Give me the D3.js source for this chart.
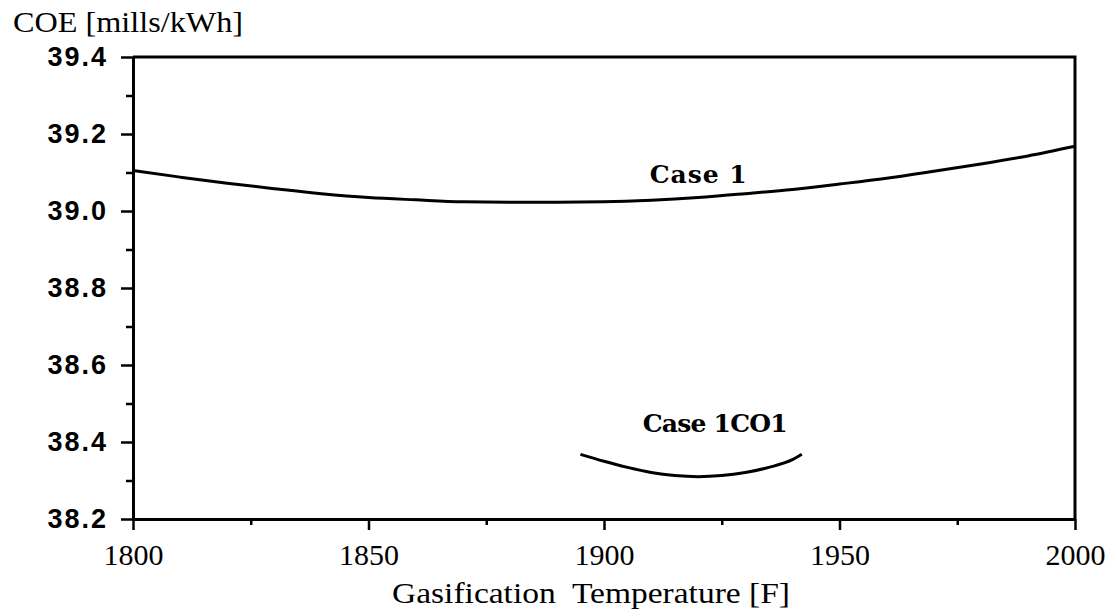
<!DOCTYPE html>
<html>
<head>
<meta charset="utf-8">
<script src="https://cdn.jsdelivr.net/npm/d3@7"></script>
<style>
  body { margin: 0; background: #fff; }
  svg { display: block; }
</style>
</head>
<body>
<div id="chart"></div>
<script>
// temperatures [F] and COE [mills/kWh]
var case1Temp = [1800, 1810, 1820, 1830, 1840, 1850, 1860, 1870, 1880, 1890, 1900,
                 1910, 1920, 1930, 1940, 1950, 1960, 1970, 1980, 1990, 2000];
var case1Coe  = [39.105, 39.088, 39.072, 39.058, 39.045, 39.035, 39.029, 39.024, 39.023, 39.023, 39.024,
                 39.028, 39.035, 39.045, 39.056, 39.070, 39.085, 39.103, 39.122, 39.143, 39.168];
var co1Temp = [1895, 1900, 1905, 1910, 1915, 1920, 1925, 1930, 1935, 1940, 1942];
var co1Coe  = [38.368, 38.350, 38.334, 38.321, 38.313, 38.310, 38.313, 38.321, 38.334, 38.354, 38.368];

var xMajor = [1800, 1850, 1900, 1950, 2000];
var xMinor = [1825, 1875, 1925, 1975];
var yMajor = [38.2, 38.4, 38.6, 38.8, 39.0, 39.2, 39.4];
var yMinor = [38.3, 38.5, 38.7, 38.9, 39.1, 39.3];

var W = 1117, H = 616;
var plot = { left: 133, right: 1075, top: 57, bottom: 519 };

var svg = d3.select('#chart').append('svg')
    .attr('width', W)
    .attr('height', H);

var x = d3.scaleLinear().domain([1800, 2000]).range([plot.left, plot.right]);
var y = d3.scaleLinear().domain([38.2, 39.4]).range([plot.bottom, plot.top]);

// frame: top and right
svg.append('path')
    .attr('d', 'M' + plot.left + ',' + plot.top + 'H' + plot.right + 'V' + plot.bottom)
    .attr('fill', 'none')
    .attr('stroke', '#000')
    .attr('stroke-width', 3);

// y axis
var yAxis = svg.append('g')
    .attr('transform', 'translate(' + plot.left + ',0)')
    .call(d3.axisLeft(y).tickValues(yMajor).tickSize(12).tickSizeOuter(0).tickPadding(13)
        .tickFormat(d3.format('.1f')));
svg.append('g')
    .attr('transform', 'translate(' + plot.left + ',0)')
    .call(d3.axisLeft(y).tickValues(yMinor).tickSize(7).tickSizeOuter(0).tickFormat(''))
    .select('.domain').remove();

// x axis
var xAxis = svg.append('g')
    .attr('transform', 'translate(0,' + plot.bottom + ')')
    .call(d3.axisBottom(x).tickValues(xMajor).tickSize(11).tickSizeOuter(0).tickPadding(14)
        .tickFormat(d3.format('d')));
svg.append('g')
    .attr('transform', 'translate(0,' + plot.bottom + ')')
    .call(d3.axisBottom(x).tickValues(xMinor).tickSize(6).tickSizeOuter(0).tickFormat(''))
    .select('.domain').remove();

svg.selectAll('.domain').attr('stroke-width', 3);
svg.selectAll('.tick line').attr('stroke-width', 2.5);

yAxis.selectAll('text')
    .attr('font-family', '"Liberation Sans", Arial, sans-serif')
    .attr('font-weight', 'bold')
    .attr('font-size', 27)
    .attr('letter-spacing', 2)
    .attr('fill', '#000');

xAxis.selectAll('text')
    .attr('font-family', '"Liberation Serif", "Times New Roman", serif')
    .attr('font-size', 30)
    .attr('fill', '#000');

// curves
var line = d3.line()
    .x(function(d) { return x(d[0]); })
    .y(function(d) { return y(d[1]); })
    .curve(d3.curveMonotoneX);

svg.append('path')
    .datum(d3.zip(case1Temp, case1Coe))
    .attr('d', line)
    .attr('fill', 'none')
    .attr('stroke', '#000')
    .attr('stroke-width', 3);

svg.append('path')
    .datum(d3.zip(co1Temp, co1Coe))
    .attr('d', line)
    .attr('fill', 'none')
    .attr('stroke', '#000')
    .attr('stroke-width', 3);

// curve labels
svg.append('text')
    .attr('x', x(1920))
    .attr('y', y(39.073))
    .attr('text-anchor', 'middle')
    .attr('font-family', '"DejaVu Serif", serif')
    .attr('font-weight', 'bold')
    .attr('font-size', 25)
    .attr('textLength', 97)
    .text('Case 1');

svg.append('text')
    .attr('x', x(1923.6))
    .attr('y', y(38.426))
    .attr('text-anchor', 'middle')
    .attr('font-family', '"DejaVu Serif", serif')
    .attr('font-weight', 'bold')
    .attr('font-size', 25)
    .attr('textLength', 145)
    .text('Case 1CO1');

// axis titles
svg.append('text')
    .attr('x', 13)
    .attr('y', 32)
    .attr('font-family', '"Liberation Serif", "Times New Roman", serif')
    .attr('font-size', 30)
    .attr('textLength', 230)
    .attr('lengthAdjust', 'spacingAndGlyphs')
    .text('COE [mills/kWh]');

svg.append('text')
    .attr('x', 591)
    .attr('y', 603)
    .attr('text-anchor', 'middle')
    .attr('font-family', '"Liberation Serif", "Times New Roman", serif')
    .attr('font-size', 30)
    .attr('textLength', 398)
    .attr('lengthAdjust', 'spacingAndGlyphs')
    .attr('xml:space', 'preserve')
    .text('Gasification  Temperature [F]');
</script>
</body>
</html>
